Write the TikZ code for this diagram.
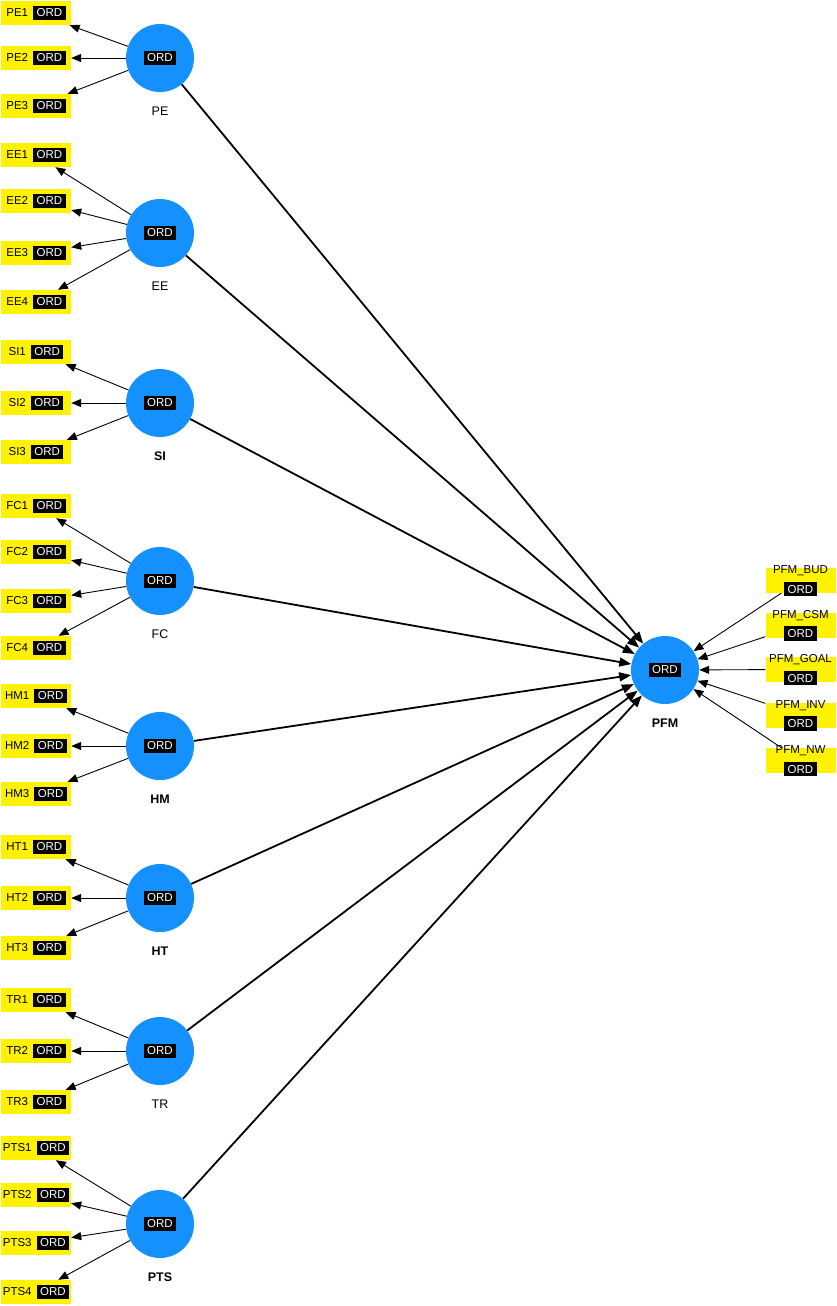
\documentclass[tikz,border=0pt]{standalone}
\usepackage{fontspec}
\setmainfont{Liberation Sans}
\usetikzlibrary{arrows.meta}
\definecolor{lvblue}{RGB}{20,144,255}
\newcommand{\ordtag}{{\setlength{\fboxsep}{3pt}\colorbox{black}{\hspace{0.5pt}\textcolor{white}{ORD}\hspace{0.5pt}}}}

\begin{document}
\begin{tikzpicture}[x=1pt, y=-1pt,
    every node/.style={font=\fontsize{11.5}{13}\selectfont},
    latent/.style={circle, fill=lvblue, minimum size=68pt, inner sep=0pt},
    indic/.style={fill=yellow, minimum width=70pt, minimum height=24pt, inner sep=0pt},
    outind/.style={fill=yellow, minimum width=70pt, inner sep=0pt, align=center, text height=25pt, text depth=0pt},
    load/.style={-{Triangle[length=10pt,width=8pt]}, line width=0.9pt},
    inner path/.style={-{Triangle[length=12pt,width=9pt]}, line width=1.8pt}]

    \useasboundingbox (0,0) rectangle (837,1306);

    % ==================== ENDOGENOUS: PFM ====================
    \node[latent, label={[name=PFMlbl, label distance=11pt, font=\fontsize{12.5}{14}\selectfont\bfseries]below:PFM}] (PFM) at (665,670) {\ordtag};

    % reflective indicators (right)
    \foreach \tag/\iy in {BUD/580.5, CSM/625, GOAL/669.5, INV/715, NW/760.5} {
        \node[outind] (PFM\tag) at (800.5,\iy) {PFM\_\tag\\[5pt]\ordtag};
        \draw[load] (PFM\tag) -- (PFM);
    }

    % ==================== EXOGENOUS CONSTRUCTS ====================
    % name / y / weight / {indicator / y}
    \foreach \lv/\ly/\wt/\items in {
        PE/58/\mdseries/{1/13,2/58,3/106},
        EE/233/\mdseries/{1/155,2/201,3/253,4/302},
        SI/403/\bfseries/{1/352,2/403,3/452},
        FC/581/\mdseries/{1/506,2/552,3/601,4/648},
        HM/746/\bfseries/{1/696,2/746,3/794},
        HT/898/\bfseries/{1/847,2/898,3/948},
        TR/1051/\mdseries/{1/1000,2/1051,3/1102},
        PTS/1224/\bfseries/{1/1148,2/1195,3/1243,4/1292}} {
        \node[latent, label={[name=\lv lbl, label distance=11pt, font=\fontsize{12.5}{14}\selectfont\wt]below:\lv}] (\lv) at (160,\ly) {\ordtag};
        % indicators (left)
        \foreach \n/\iy in \items {
            \node[indic] (\lv\n) at (36,\iy) {\lv\n\hspace{5pt}\ordtag};
            \draw[load] (\lv) -- (\lv\n);
        }
        % structural path
        \draw[inner path] (\lv) -- (PFM);
    }
\end{tikzpicture}
\end{document}
